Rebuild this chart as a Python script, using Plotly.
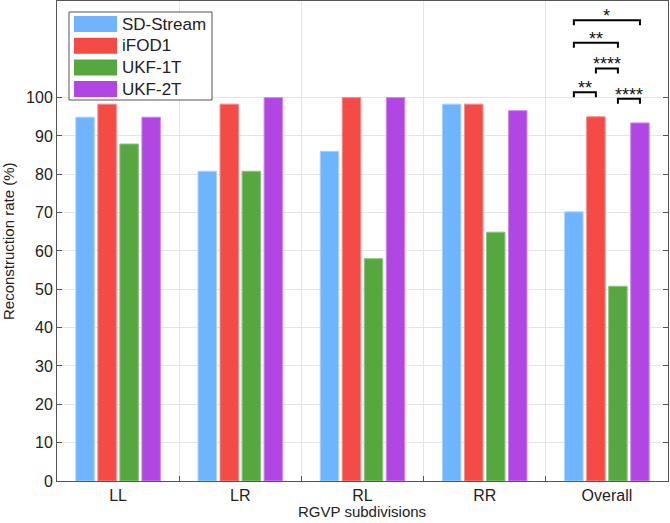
import plotly.graph_objects as go

categories = ["LL", "LR", "RL", "RR", "Overall"]
series_names = ["SD-Stream", "iFOD1", "UKF-1T", "UKF-2T"]
sd_stream = [94.9, 80.8, 86.0, 98.3, 70.2]
ifod1 = [98.3, 98.3, 100.0, 98.3, 95.0]
ukf_1t = [87.9, 80.8, 58.0, 64.9, 50.8]
ukf_2t = [94.9, 100.0, 100.0, 96.6, 93.4]
y_ticks = [0, 10, 20, 30, 40, 50, 60, 70, 80, 90, 100]

# significance brackets in the "Overall" group: (series a, series b, height, label)
sig_pairs = [(0, 3, 120.2, "*"), (0, 2, 114.3, "**"), (1, 2, 107.6, "****"),
             (0, 1, 101.4, "**"), (2, 3, 99.7, "****")]

colors = ["#6EB4FE", "#F44B46", "#56A740", "#B146E2"]
edges = ["#A9D3FF", "#F98A86", "#8CC67D", "#CC8AEE"]
FONT = "Liberation Sans, Arial, Helvetica"

bargap = 0.279
bargroupgap = 0.16
slot = (1 - bargap) / 4

# plot area in pixels (for the paper-referenced legend and titles)
L, R, T, B = 57, 2, 1, 42
PW, PH = 670 - L - R, 523 - T - B

def px_x(p):
    return (p - L) / PW

def px_y(p):
    return (523 - B - p) / PH

fig = go.Figure()
xs = list(range(len(categories)))
for name, vals, c, e in zip(series_names, [sd_stream, ifod1, ukf_1t, ukf_2t], colors, edges):
    fig.add_trace(go.Bar(x=xs, y=vals, name=name, marker=dict(color=c, line=dict(color=e, width=1)),
                         showlegend=False))

# significance brackets
gx = categories.index("Overall")
bx, by = [], []
drop = 1.3
for a, b, h, lab in sig_pairs:
    xa = gx + (a - 1.5) * slot
    xb = gx + (b - 1.5) * slot
    bx += [xa, xa, xb, xb, None]
    by += [h - drop, h, h, h - drop, None]
    fig.add_annotation(x=(xa + xb) / 2, y=h, text=lab, showarrow=False, xanchor="center",
                       yanchor="bottom", yshift=-8, font=dict(size=18, color="#111", family=FONT))
fig.add_trace(go.Scatter(x=bx, y=by, mode="lines", line=dict(color="black", width=2),
                         showlegend=False, hoverinfo="skip"))

# legend box with large swatches
fig.add_shape(type="rect", xref="paper", yref="paper", x0=px_x(69), x1=px_x(212),
              y0=px_y(100), y1=px_y(12), line=dict(color="#555", width=1),
              fillcolor="white", layer="above")
for i, (name, c) in enumerate(zip(series_names, colors)):
    cy = 24 + i * 21.7
    fig.add_shape(type="rect", xref="paper", yref="paper", x0=px_x(74), x1=px_x(117),
                  y0=px_y(cy + 8), y1=px_y(cy - 8), line=dict(width=0), fillcolor=c, layer="above")
    fig.add_annotation(xref="paper", yref="paper", x=px_x(120), y=px_y(cy), text=name,
                       showarrow=False, xanchor="left", yanchor="middle",
                       font=dict(size=17, color="#222", family=FONT))

# axis titles
fig.add_annotation(xref="paper", yref="paper", x=px_x(362), y=px_y(511), text="RGVP subdivisions",
                   showarrow=False, xanchor="center", yanchor="middle",
                   font=dict(size=15, color="#222", family=FONT))
fig.add_annotation(xref="paper", yref="paper", x=px_x(8), y=px_y(241), text="Reconstruction rate (%)",
                   showarrow=False, xanchor="center", yanchor="middle", textangle=-90,
                   font=dict(size=15, color="#222", family=FONT))

fig.update_layout(
    width=670, height=523,
    margin=dict(l=L, r=R, t=T, b=B),
    paper_bgcolor="white", plot_bgcolor="white",
    barmode="group", bargap=bargap, bargroupgap=bargroupgap,
    font=dict(family=FONT, size=16, color="#222"),
)
fig.update_xaxes(
    range=[-0.5, len(categories) - 0.5], tickvals=xs, ticktext=categories,
    ticks="", showgrid=False, zeroline=False, automargin=False,
    showline=True, linecolor="#555", linewidth=1, mirror=True,
    minor=dict(tickvals=[i + 0.5 for i in xs[:-1]], showgrid=True, gridcolor="#e4e4e4",
               ticks="inside", ticklen=5, tickcolor="#555"),
    tickfont=dict(size=16),
)
fig.update_yaxes(
    range=[0, 125.2], tickvals=y_ticks, ticks="inside", ticklen=5, tickcolor="#555",
    showgrid=True, gridcolor="#e4e4e4", zeroline=False, automargin=False,
    showline=True, linecolor="#555", linewidth=1, mirror="ticks",
    tickfont=dict(size=16),
)

fig.write_html("out.html",
               config={"displayModeBar": False},
               post_script="document.body.style.margin='0';"
                           "document.documentElement.style.overflow='hidden';")
